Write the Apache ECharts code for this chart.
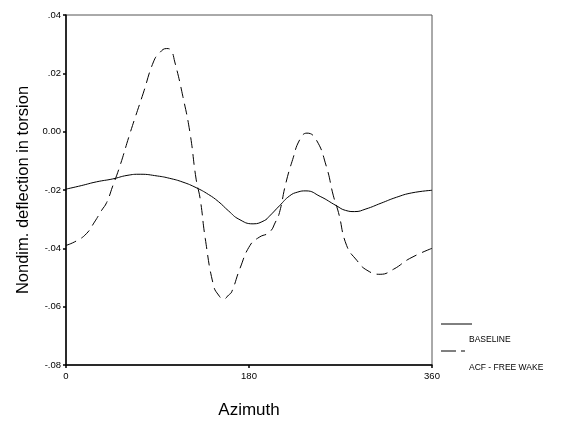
<!DOCTYPE html>
<html><head><meta charset="utf-8">
<script src="https://cdn.jsdelivr.net/npm/echarts@6/dist/echarts.min.js"></script>
<style>html,body{margin:0;padding:0;background:#fff}#c{width:566px;height:424px}</style>
</head><body><div id="c"></div>
<script>
const baselineAz = [0,15,30,46,60,73,90,102,115,128,140,150,160,170,184,195,200,210,220,228,236,250,266,275,284,295,310,325,340,360];
const baselineVal = [-0.0197,-0.0185,-0.0172,-0.0162,-0.0150,-0.0146,-0.0152,-0.0160,-0.0173,-0.0192,-0.0215,-0.0240,-0.0272,-0.0300,-0.0316,-0.0305,-0.0290,-0.0254,-0.0220,-0.0207,-0.0203,-0.0222,-0.0254,-0.0270,-0.0274,-0.0265,-0.0245,-0.0225,-0.0210,-0.0201];
const acfAz = [0,10,20,28,35,40,46,53,63,76,86,92,99,103,107,115,122,128,132,137,145,150,155,160,163,171,181,190,200,206,210,216,223,230,237,246,256,263,268,276,286,296,309,322,338,360];
const acfVal = [-0.039,-0.0375,-0.035,-0.031,-0.027,-0.0243,-0.0186,-0.0118,-0.0005,0.0132,0.0239,0.027,0.0285,0.028,0.0239,0.012,-0.0005,-0.0163,-0.0231,-0.0367,-0.0526,-0.056,-0.0574,-0.056,-0.0549,-0.047,-0.039,-0.0362,-0.0345,-0.031,-0.0277,-0.018,-0.0095,-0.0027,-0.0005,-0.0027,-0.0118,-0.022,-0.0277,-0.039,-0.0441,-0.0475,-0.0489,-0.0472,-0.0435,-0.040];
const yTickValues = [-0.08,-0.06,-0.04,-0.02,0,0.02,0.04];
const yTickLabels = ['-.08','-.06','-.04','-.02','0.00','.02','.04'];
const seriesNames = ['BASELINE','ACF - FREE WAKE'];

const chart = echarts.init(document.getElementById('c'));
const font = 'Liberation Sans, Arial, sans-serif';
chart.setOption({
  animation:false,
  backgroundColor:'#fff',
  grid:{left:66,right:134,top:15,bottom:56,show:true,borderColor:'#555',borderWidth:1},
  xAxis:{type:'value',min:0,max:360,interval:180,
    name:'Azimuth',nameLocation:'middle',nameGap:37,
    nameTextStyle:{fontFamily:font,fontSize:17,color:'#000'},
    axisLine:{onZero:false,lineStyle:{color:'#000',width:1.5}},
    axisTick:{show:true,length:3,lineStyle:{color:'#000',width:1.5}},
    axisLabel:{fontFamily:font,fontSize:9.5,color:'#000',margin:6},
    splitLine:{show:false}},
  yAxis:{type:'value',min:-0.08,max:0.04,interval:0.02,
    name:'Nondim. deflection in torsion',nameLocation:'middle',nameGap:33,
    nameTextStyle:{fontFamily:font,fontSize:16.5,color:'#000'},
    axisLine:{show:true,onZero:false,lineStyle:{color:'#000',width:1.5}},
    axisTick:{show:true,length:3,lineStyle:{color:'#000',width:1.5}},
    axisLabel:{fontFamily:font,fontSize:9.5,color:'#000',margin:5,
      formatter:v=>{const i=yTickValues.findIndex(t=>Math.abs(t-v)<1e-9);return i>=0?yTickLabels[i]:'';}},
    splitLine:{show:false}},
  series:[
    {name:seriesNames[0],type:'line',smooth:0.5,symbol:'none',
      data:baselineAz.map((a,i)=>[a,baselineVal[i]]),
      lineStyle:{color:'#000',width:1}},
    {name:seriesNames[1],type:'line',smooth:0.5,symbol:'none',
      data:acfAz.map((a,i)=>[a,acfVal[i]]),
      lineStyle:{color:'#000',width:1,type:[11,6]}}
  ],
  graphic:[
    {type:'line',shape:{x1:441,y1:324,x2:472,y2:324},style:{stroke:'#000',lineWidth:1}},
    {type:'text',left:469,top:335,style:{text:seriesNames[0],font:'8.5px '+font,fill:'#000'}},
    {type:'line',shape:{x1:441,y1:351,x2:456,y2:351},style:{stroke:'#000',lineWidth:1}},
    {type:'line',shape:{x1:461,y1:351,x2:465,y2:351},style:{stroke:'#000',lineWidth:1}},
    {type:'text',left:469,top:363,style:{text:seriesNames[1],font:'8.5px '+font,fill:'#000'}}
  ]
});
</script></body></html>
